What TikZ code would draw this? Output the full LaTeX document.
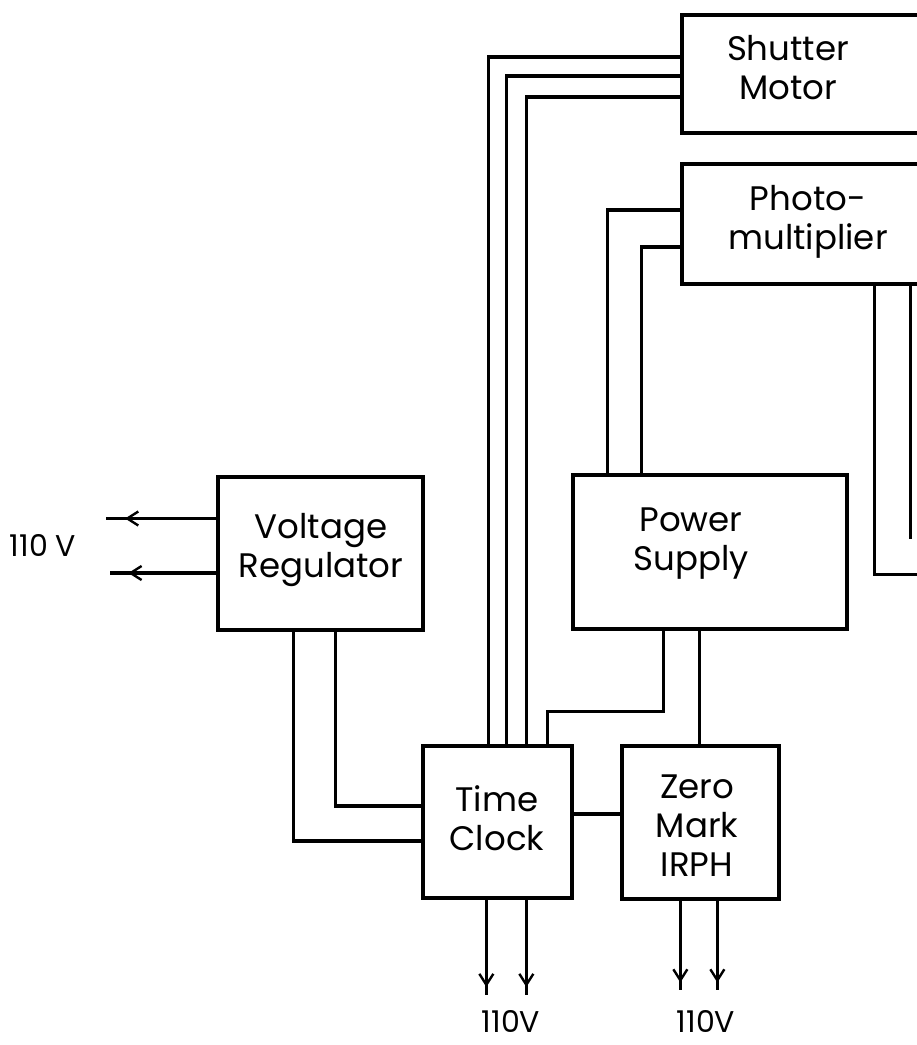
\documentclass[tikz,border=0pt]{standalone}
\usepackage{fontspec}
\setmainfont{Poppins}
\usetikzlibrary{arrows.meta,decorations.markings}
\begin{document}
\begin{tikzpicture}[x=1pt,y=1pt,
  wire/.style={line width=3.3pt, line join=miter},
  boxst/.style={draw, line width=3.3pt, rectangle, inner sep=0pt},
  lbl/.style={align=center, font=\fontsize{34}{39}\selectfont, inner sep=0pt},
  vlbl/.style={font=\fontsize{30}{34}\selectfont, inner sep=0pt},
  arr/.style={wire, postaction={decorate},
    decoration={markings, mark=at position #1 with {\arrow{Straight Barb[length=11pt,width=14pt,line width=2.4pt]}}}},
]
\useasboundingbox (0,0) rectangle (917,-1045);
\clip (0,0) rectangle (917,-1045);
% boxes
\node[boxst, minimum width=278, minimum height=118] (sm) at (821,-74) {};
\node[boxst, minimum width=278, minimum height=120] (pm) at (821,-224) {};
\node[boxst, minimum width=205, minimum height=153] (vr) at (320.5,-553.5) {};
\node[boxst, minimum width=274, minimum height=154] (ps) at (710,-552) {};
\node[boxst, minimum width=149, minimum height=152] (tc) at (497.5,-822) {};
\node[boxst, minimum width=157, minimum height=153] (zm) at (700.5,-822.5) {};
% texts
\node[lbl] (smt) at (788,-68) {Shutter\\Motor};
\node[lbl] (pmt) at (808,-222) {Photo-\\multiplier};
\node[lbl] (vrt) at (321,-550) {Voltage\\Regulator};
\node[lbl] (pst) at (691,-544) {Power\\Supply};
\node[lbl] (tct) at (497,-818) {Time\\Clock};
\node[lbl] (zmt) at (697,-826) {Zero\\Mark\\IRPH};
\node[vlbl] (v1) at (43,-545) {110 V};
\node[vlbl] (v2) at (511,-1021) {110V};
\node[vlbl] (v3) at (706,-1021) {110V};
% shutter motor wires
\draw[wire] ([yshift=17]sm.west) -| ([xshift=67]tc.north west);
\draw[wire] ([yshift=-2]sm.west) -| ([xshift=85]tc.north west);
\draw[wire] ([yshift=-23]sm.west) -| ([xshift=105]tc.north west);
% photomultiplier to power supply
\draw[wire] ([yshift=14]pm.west) -| ([xshift=36]ps.north west);
\draw[wire] ([yshift=-23]pm.west) -| ([xshift=70]ps.north west);
% photomultiplier outputs to the right
\coordinate (r1) at ([xshift=194]pm.south west);
\coordinate (r2) at ([xshift=230]pm.south west);
\draw[wire] (r1) -- ++(0,-289) -- ++(80,0);
\draw[wire] (r2) -- ++(0,-253);
% power supply to time clock and zero mark
\draw[wire] ([xshift=92]ps.south west) -- ++(0,-81) -| ([xshift=126]tc.north west);
\coordinate (p5) at ([xshift=128]ps.south west);
\draw[wire] (p5) -- (p5 |- zm.north);
% voltage regulator to time clock
\draw[wire] ([xshift=119]vr.south west) |- ([yshift=16]tc.west);
\draw[wire] ([xshift=77]vr.south west) |- ([yshift=-19]tc.west);
% time clock to zero mark
\coordinate (q) at ([yshift=8]tc.east);
\draw[wire] (q) -- (q -| zm.west);
% arrows
\draw[arr=0.83] ([yshift=35]vr.west) -- ++(-110,0);
\draw[arr=0.83] ([yshift=-19.5]vr.west) -- ++(-106,0);
\draw[arr=0.92] ([xshift=65]tc.south west) -- ++(0,-95);
\draw[arr=0.92] ([xshift=105]tc.south west) -- ++(0,-95);
\draw[arr=0.92] ([xshift=60]zm.south west) -- ++(0,-89);
\draw[arr=0.92] ([xshift=97]zm.south west) -- ++(0,-89);
\end{tikzpicture}
\end{document}
